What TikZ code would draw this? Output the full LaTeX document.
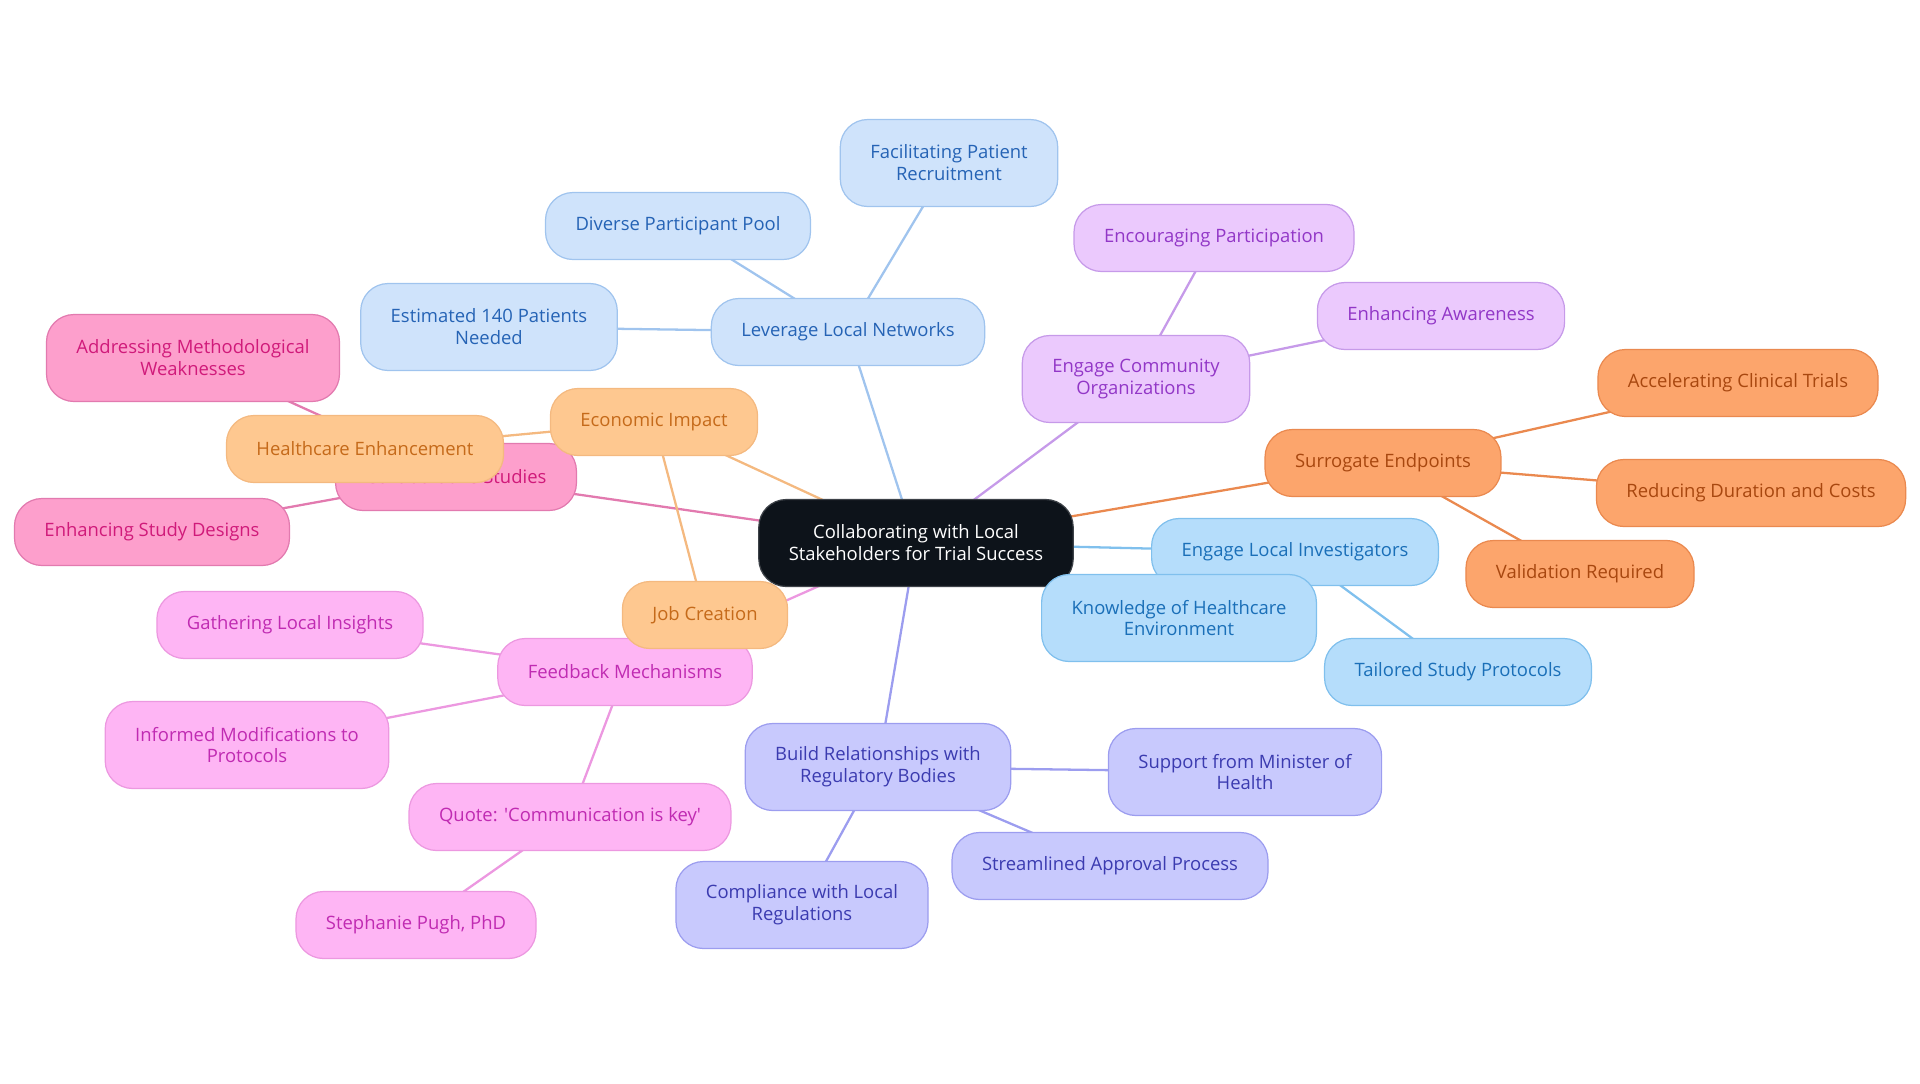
\documentclass[tikz,border=0pt]{standalone}
\usepackage{fontspec}
\setmainfont{Open Sans}
\usetikzlibrary{backgrounds}
\definecolor{rootbg}{RGB}{13,19,26}
\definecolor{netbg}{RGB}{207,227,251}  \definecolor{netbd}{RGB}{160,196,238} \definecolor{nettx}{RGB}{37,99,181}
\definecolor{invbg}{RGB}{181,221,251}  \definecolor{invbd}{RGB}{128,192,237} \definecolor{invtx}{RGB}{26,111,184}
\definecolor{combg}{RGB}{235,201,253}  \definecolor{combd}{RGB}{198,154,233} \definecolor{comtx}{RGB}{146,55,199}
\definecolor{surbg}{RGB}{252,165,108}  \definecolor{surbd}{RGB}{234,137,79}  \definecolor{surtx}{RGB}{168,71,15}
\definecolor{ecobg}{RGB}{254,200,144}  \definecolor{ecobd}{RGB}{244,185,128} \definecolor{ecotx}{RGB}{197,106,26}
\definecolor{stubg}{RGB}{253,159,204}  \definecolor{stubd}{RGB}{226,122,175} \definecolor{stutx}{RGB}{208,26,122}
\definecolor{fbbg}{RGB}{254,181,244}   \definecolor{fbbd}{RGB}{236,152,224}  \definecolor{fbtx}{RGB}{192,43,178}
\definecolor{regbg}{RGB}{200,201,253}  \definecolor{regbd}{RGB}{156,157,239} \definecolor{regtx}{RGB}{59,59,176}
\tikzset{
  topic/.style={draw,rounded corners=0.55cm,align=center,inner xsep=0.6cm,inner ysep=2pt,
                minimum height=1.34cm,line width=0.7pt,font=\fontsize{10.5}{12.5}\selectfont}, % any box
  two/.style={minimum height=1.74cm},                                      % two-line box
  root/.style={topic,two,fill=rootbg,draw=rootbg!80!white,text=white},
  net/.style={topic,fill=netbg,draw=netbd,text=nettx},
  inv/.style={topic,fill=invbg,draw=invbd,text=invtx},
  com/.style={topic,fill=combg,draw=combd,text=comtx},
  sur/.style={topic,fill=surbg,draw=surbd,text=surtx},
  eco/.style={topic,fill=ecobg,draw=ecobd,text=ecotx},
  stu/.style={topic,fill=stubg,draw=stubd,text=stutx},
  fb/.style={topic,fill=fbbg,draw=fbbd,text=fbtx},
  reg/.style={topic,fill=regbg,draw=regbd,text=regtx},
  link/.style={line width=1.3pt},
}

\begin{document}
\begin{tikzpicture}[x=0.02cm,y=-0.02cm]
  \useasboundingbox (0,0) rectangle (1920,1083);
  % centre
  \node[root] (root) at (916,543) {Collaborating with Local\\Stakeholders for Trial Success};
  % local networks
  \node[net] (lev) at (848,332) {Leverage Local Networks};
  \node[net,two] (fac) at (949,163) {Facilitating Patient\\Recruitment};
  \node[net] (div) at (678,226) {Diverse Participant Pool};
  \node[net,two] (est) at (489,327) {Estimated 140 Patients\\Needed};
  % investigators
  \node[inv] (inv) at (1295,552) {Engage Local Investigators};
  \node[inv,two] (know) at (1179,618) {Knowledge of Healthcare\\Environment};
  \node[inv] (tail) at (1458,672) {Tailored Study Protocols};
  % community
  \node[com,two] (com) at (1136,379) {Engage Community\\Organizations};
  \node[com] (enc) at (1214,238) {Encouraging Participation};
  \node[com] (awa) at (1441,316) {Enhancing Awareness};
  % surrogate endpoints
  \node[sur] (sur) at (1383,463) {Surrogate Endpoints};
  \node[sur] (acc) at (1738,383) {Accelerating Clinical Trials};
  \node[sur] (red) at (1751,493) {Reducing Duration and Costs};
  \node[sur] (val) at (1580,574) {Validation Required};
  % studies
  \node[stu] (stu) at (456,477) {Collaborative Studies};
  \node[stu,two] (adw) at (193,358) {Addressing Methodological\\Weaknesses};
  \node[stu] (esd) at (152,532) {Enhancing Study Designs};
  % economic
  \node[eco] (eco) at (654,422) {Economic Impact};
  \node[eco] (hce) at (365,449) {Healthcare Enhancement};
  % feedback
  \node[fb] (fbm) at (625,672) {Feedback Mechanisms};
  \node[fb] (gli) at (290,625) {Gathering Local Insights};
  \node[fb,two] (imp) at (247,745) {Informed Modifications to\\Protocols};
  \node[fb] (quo) at (570,817) {Quote: \textquotesingle Communication is key\textquotesingle};
  \node[fb] (spu) at (416,925) {Stephanie Pugh, PhD};
  \node[eco] (job) at (705,615) {Job Creation};
  % regulators
  \node[reg,two] (reg) at (878,767) {Build Relationships with\\Regulatory Bodies};
  \node[reg,two] (smh) at (1245,772) {Support from Minister of\\Health};
  \node[reg] (sap) at (1110,866) {Streamlined Approval Process};
  \node[reg,two] (clr) at (802,905) {Compliance with Local\\Regulations};

  \begin{scope}[on background layer]
    \draw[link,netbd] (root.center) -- (lev.center);
    \foreach \n in {fac,div,est} \draw[link,netbd] (lev.center) -- (\n.center);
    \draw[link,invbd] (root.center) -- (inv.center);
    \foreach \n in {know,tail} \draw[link,invbd] (inv.center) -- (\n.center);
    \draw[link,combd] (root.center) -- (com.center);
    \foreach \n in {enc,awa} \draw[link,combd] (com.center) -- (\n.center);
    \draw[link,surbd] (root.center) -- (sur.center);
    \foreach \n in {acc,red,val} \draw[link,surbd] (sur.center) -- (\n.center);
    \draw[link,stubd] (root.center) -- (stu.center);
    \foreach \n in {adw,esd} \draw[link,stubd] (stu.center) -- (\n.center);
    \draw[link,ecobd] (root.center) -- (eco.center);
    \foreach \n in {hce,job} \draw[link,ecobd] (eco.center) -- (\n.center);
    \draw[link,fbbd] (root.center) -- (fbm.center);
    \foreach \n in {gli,imp,quo} \draw[link,fbbd] (fbm.center) -- (\n.center);
    \draw[link,fbbd] (quo.center) -- (spu.center);
    \draw[link,regbd] (root.center) -- (reg.center);
    \foreach \n in {smh,sap,clr} \draw[link,regbd] (reg.center) -- (\n.center);
  \end{scope}
\end{tikzpicture}
\end{document}
